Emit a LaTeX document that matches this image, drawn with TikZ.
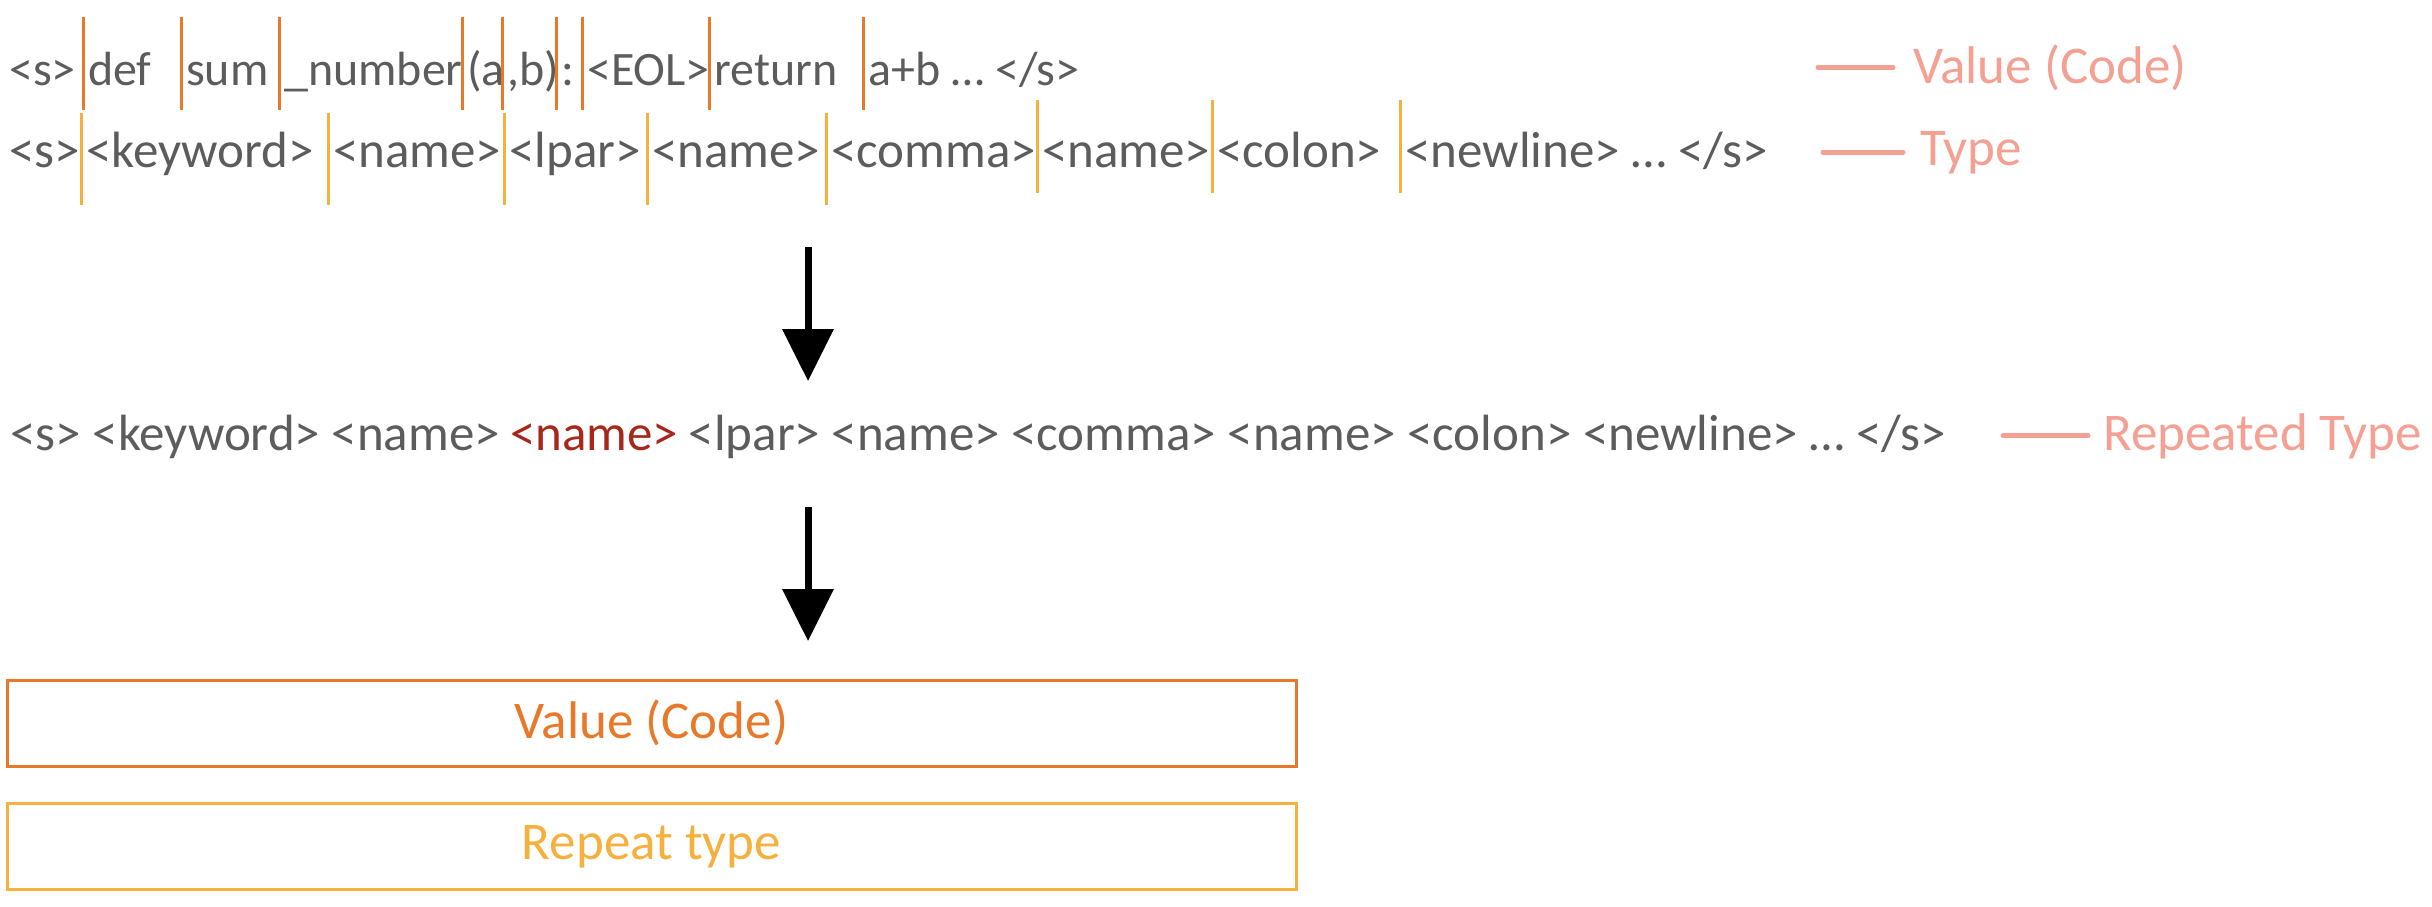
\documentclass[tikz,border=0pt]{standalone}
\usepackage{fontspec}
\setmainfont{Carlito}
\usetikzlibrary{positioning,arrows.meta}
\definecolor{inkgray}{HTML}{5C5C5C}
\definecolor{valorange}{HTML}{E8792B}
\definecolor{typeyellow}{HTML}{F5B03E}
\definecolor{notepink}{HTML}{F4A093}
\definecolor{deepred}{HTML}{A5281B}
\begin{document}
\begin{tikzpicture}[x=1pt, y=-1pt,
    every node/.style={inner sep=0pt, anchor=base west, font=\fontsize{48}{56}\selectfont},
    tok/.style={text=inkgray, inner xsep=5pt},
    bigtok/.style={tok, font=\fontsize{51}{58}\selectfont},
    valsep/.style={draw=valorange, line width=3pt},
    typsep/.style={draw=typeyellow, line width=3pt},
    note/.style={text=notepink, font=\fontsize{53}{60}\selectfont},
    noteline/.style={draw=notepink, line width=5pt, line cap=round},
    flow/.style={line width=7pt, -{Triangle[width=50pt, length=52pt]}},
    band/.style={anchor=center, line width=3pt, minimum width=1289pt, minimum height=86pt,
      font=\fontsize{53}{60}\selectfont}]
  \useasboundingbox (0,0) rectangle (2432,906);
  % value row
  \foreach \x/\nm/\txt in {4/v0/{<s>}, 83/v1/{def}, 181/v2/{sum}, 279/v3/{\_number},
      462/v4/{(a}, 502/v5/{,b)}, 556/v6/{:}, 582/v7/{<EOL>}, 709/v8/{return},
      863/v9/{a+b \ldots{} </s>}}
    \node[tok] (\nm) at (\x,85) {\txt};
  \foreach \i in {1,...,9}
    \draw[valsep] (v\i.west |- 0,17) -- (v\i.west |- 0,110);
  % type row
  \foreach \x/\nm/\txt in {4/t0/{<s>}, 81/t1/{<keyword>}, 328/t2/{<name>}, 504/t3/{<lpar>},
      647/t4/{<name>}, 826/t5/{<comma>}, 1037/t6/{<name>}, 1212/t7/{<colon>},
      1400/t8/{<newline> \ldots{} </s>}}
    \node[bigtok] (\nm) at (\x,167) {\txt};
  \foreach \i/\top/\bot in {1/113/205, 2/113/205, 3/113/205, 4/113/205, 5/113/205,
      6/100/193, 7/100/193, 8/100/193}
    \draw[typsep] (t\i.west |- 0,\top) -- (t\i.west |- 0,\bot);
  % repeated type row
  \node[bigtok, text=deepred] (rr) at (505,450) {<name>};
  \node[bigtok, base left=0pt of rr] (rl) {<s> <keyword> <name>};
  \node[bigtok, base right=0pt of rr] (rt) {<lpar> <name> <comma> <name> <colon> <newline> \ldots{} </s>};
  % notes
  \node[note] (nv) at (1913,83) {Value (Code)};
  \node[note] (nt) at (1920,165) {Type};
  \node[note] (nr) at (2103,450) {Repeated Type};
  \draw[noteline] ([xshift=-20pt]nv.west) -- ++(-75,0);
  \draw[noteline] ([xshift=-17pt]nt.west) -- ++(-80,0);
  \draw[noteline] ([xshift=-15pt]nr.west) -- ++(-85,0);
  % arrows
  \coordinate (f1s) at (808,247);
  \coordinate (f1e) at (808,381);
  \coordinate (f2s) at (808,507);
  \coordinate (f2e) at (808,641);
  \draw[flow] (f1s) -- (f1e);
  \draw[flow] (f2s) -- (f2e);
  % output boxes
  \node[band, draw=valorange, text=valorange] (bv) at (651.5,723) {Value (Code)};
  \node[band, draw=typeyellow, text=typeyellow] (bt) at (651.5,846.5) {Repeat type};
\end{tikzpicture}
\end{document}
